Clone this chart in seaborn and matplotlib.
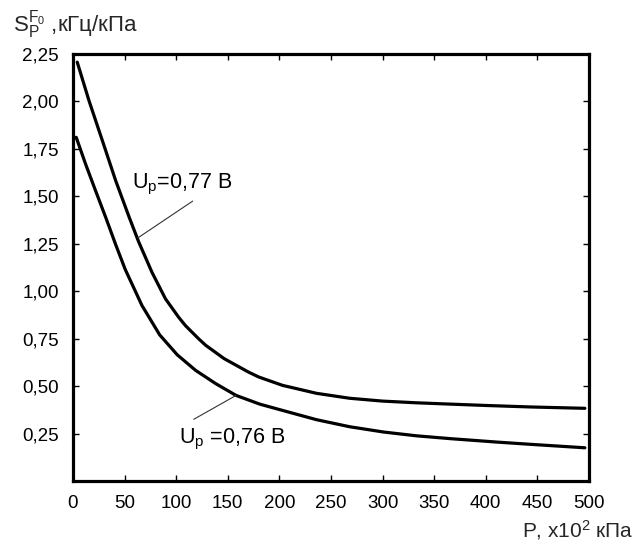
import matplotlib
matplotlib.use("Agg")
import matplotlib.pyplot as plt
import seaborn as sns
import pandas as pd

# Data
p_077 = [4.1, 15.5, 28.5, 41.4, 54.5, 63.5, 76.5, 89.6, 102.5, 109.1, 122, 128.6, 146.4, 170, 180,
         203, 236, 268, 300, 333, 366, 400, 444, 496]
s_077 = [2.207, 2.004, 1.793, 1.582, 1.389, 1.262, 1.10, 0.96, 0.862, 0.818, 0.748, 0.715, 0.645,
         0.574, 0.548, 0.504, 0.462, 0.436, 0.421, 0.412, 0.405, 0.398, 0.39, 0.383]
p_076 = [3.1, 12.2, 21.9, 31.7, 41.4, 50.6, 66.8, 84, 101, 118.8, 138.3, 158, 181, 203, 236, 268,
         301, 333, 366, 411, 444, 496]
s_076 = [1.811, 1.670, 1.529, 1.389, 1.245, 1.115, 0.925, 0.77, 0.665, 0.583, 0.513, 0.451, 0.405,
         0.372, 0.323, 0.286, 0.258, 0.238, 0.223, 0.205, 0.193, 0.175]
x_ticks = [0, 50, 100, 150, 200, 250, 300, 350, 400, 450, 500]
y_ticks = [0.25, 0.50, 0.75, 1.00, 1.25, 1.50, 1.75, 2.00, 2.25]
label_077 = "U$_{\\mathregular{р}}$=0,77 В"
label_076 = "U$_{\\mathregular{р}}$ =0,76 В"

sns.set_style("ticks")
plt.rcParams['font.family'] = ['Liberation Sans', 'DejaVu Sans']
plt.rcParams['mathtext.fontset'] = 'custom'
plt.rcParams['mathtext.rm'] = 'Liberation Sans'
plt.rcParams['mathtext.it'] = 'Liberation Sans'
plt.rcParams['mathtext.bf'] = 'Liberation Sans'

fig = plt.figure(figsize=(6.35, 5.42), dpi=100)
ax = fig.add_axes([73 / 635, 1 - 481 / 542, (589 - 73) / 635, (481 - 54) / 542])

df1 = pd.DataFrame({"P": p_077, "S": s_077})
df2 = pd.DataFrame({"P": p_076, "S": s_076})
sns.lineplot(data=df1, x="P", y="S", color="black", linewidth=2.3, sort=False, ax=ax)
sns.lineplot(data=df2, x="P", y="S", color="black", linewidth=2.3, sort=False, ax=ax)

ax.set_xlim(0, 500)
ax.set_ylim(0, 2.25)
ax.set_xticks(x_ticks)
ax.set_xticklabels([str(v) for v in x_ticks])
ax.set_yticks(y_ticks)
ax.set_yticklabels([f"{v:.2f}".replace(".", ",") for v in y_ticks])
ax.set_xlabel("")
ax.set_ylabel("")
ax.tick_params(direction="in", length=4, width=1, colors="black", labelsize=13.5,
               top=True, right=True, labeltop=False, labelright=False)
ax.tick_params(axis="x", pad=10)
ax.tick_params(axis="y", pad=10)
for sp in ax.spines.values():
    sp.set_visible(True)
    sp.set_linewidth(2.3)
    sp.set_color("black")

# annotations with pointer lines
ax.plot([116, 62.6], [1.475, 1.28], color="#333333", linewidth=0.8)
ax.plot([117, 158], [0.325, 0.451], color="#333333", linewidth=0.8)
ax.text(56.8, 1.544, label_077, fontsize=15.5, color="black", va="baseline", ha="left")
ax.text(102.6, 0.198, label_076, fontsize=15.5, color="black", va="baseline", ha="left")

fig.text(13 / 635, 1 - 33 / 542, "S$_{\\mathregular{P}}^{\\mathregular{F_0}}$ ,кГц/кПа",
         fontsize=16, ha="left", va="baseline")
fig.text(634 / 635, 1 - 537 / 542, "P, x10$^{\\mathregular{2}}$ кПа",
         fontsize=15, ha="right", va="baseline")

fig.savefig("out.png", dpi=100, facecolor="white")
